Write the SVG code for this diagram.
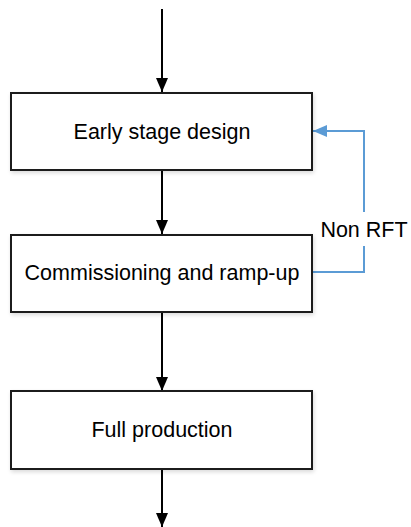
<svg xmlns="http://www.w3.org/2000/svg" width="411" height="527" viewBox="0 0 411 527">
<style>
.box{fill:#fff;stroke:#1a1a1a;stroke-width:2}
.lbl{font-family:"Liberation Sans",Arial,sans-serif;font-size:21.5px;fill:#000;text-anchor:middle}
.edge{fill:none;stroke:#000;stroke-width:2}
.fb{fill:none;stroke:#5b9bd5;stroke-width:2}
</style>
<defs>
<filter id="sh" x="-10%" y="-10%" width="120%" height="130%">
<feGaussianBlur in="SourceAlpha" stdDeviation="2"/>
<feOffset dx="1" dy="2"/>
<feComponentTransfer><feFuncA type="linear" slope="0.15"/></feComponentTransfer>
<feMerge><feMergeNode/><feMergeNode in="SourceGraphic"/></feMerge>
</filter>
<marker id="ab" markerWidth="14" markerHeight="12" refX="14" refY="6" orient="auto" markerUnits="userSpaceOnUse" viewBox="0 0 14 12">
<path d="M0,0 L14,6 L0,12 Z" fill="#000"/>
</marker>
<marker id="ablue" markerWidth="14" markerHeight="12" refX="14" refY="6" orient="auto" markerUnits="userSpaceOnUse" viewBox="0 0 14 12">
<path d="M0,0 L14,6 L0,12 Z" fill="#5b9bd5"/>
</marker>
</defs>
<g id="connectors">
<path class="edge" d="M162,9 L162,92" marker-end="url(#ab)"/>
<path class="edge" d="M162,170 L162,234" marker-end="url(#ab)"/>
<path class="edge" d="M162,312 L162,391" marker-end="url(#ab)"/>
<path class="edge" d="M162,469 L162,527" marker-end="url(#ab)"/>
<path class="fb" d="M312,272 L364,272 L364,131 L313,131" marker-end="url(#ablue)"/>
<rect x="318" y="212" width="92" height="34" fill="#fff"/>
<text class="lbl" x="364" y="237">Non RFT</text>
</g>
<g id="early">
<rect class="box" x="11" y="93" width="301" height="77" filter="url(#sh)"/>
<text class="lbl" x="162" y="139">Early stage design</text>
</g>
<g id="commissioning">
<rect class="box" x="11" y="235" width="301" height="77" filter="url(#sh)"/>
<text class="lbl" x="162" y="280">Commissioning and ramp-up</text>
</g>
<g id="full">
<rect class="box" x="11" y="391" width="301" height="78" filter="url(#sh)"/>
<text class="lbl" x="162" y="437">Full production</text>
</g>
</svg>
